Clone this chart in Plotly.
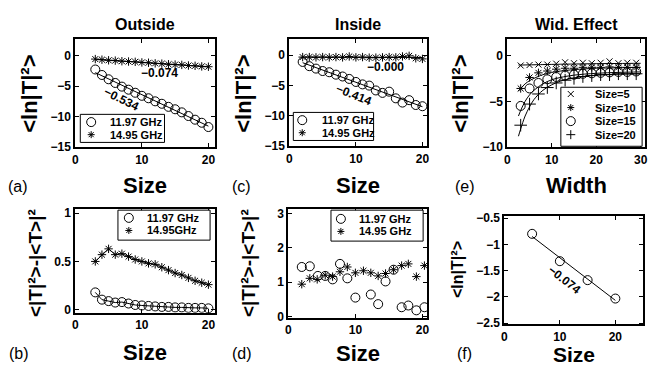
import numpy as np
import plotly.graph_objects as go

W, H = 657, 371
FONT = "Liberation Sans"

# ---------------- data ----------------
# (a) Outside
size_a = list(range(3, 21))
out_1197 = [-2.3, -3.2, -3.9, -4.5, -5.1, -5.6, -6.1, -6.6, -7.0, -7.5, -7.9, -8.4,
            -8.8, -9.3, -9.9, -10.5, -11.0, -11.7]
out_1495 = [-0.6, -0.7, -0.8, -0.85, -0.95, -1.0, -1.05, -1.15, -1.2, -1.3, -1.35,
            -1.45, -1.5, -1.55, -1.65, -1.7, -1.8, -1.85]

# (c) Inside
size_c = list(range(2, 21))
in_1197 = [-1.1, -1.8, -2.2, -2.6, -2.8, -3.2, -3.5, -3.9, -4.4, -4.8, -5.0, -5.8,
           -6.2, -6.0, -7.1, -7.8, -7.4, -8.2, -8.4]
in_1495 = [-0.3, -0.3, -0.35, -0.3, -0.35, -0.3, -0.35, -0.2, -0.35, -0.3, -0.4,
           -0.4, -0.35, -0.3, -0.35, -0.2, -0.1, -0.5, -0.6]

# (e) Width effect
width_e = list(range(3, 31, 2))
wid_s5 = [-1.1, -1.05, -1.0, -1.0, -0.9, -0.75, -0.85, -0.8, -0.85, -0.8, -0.65, -0.85, -0.8, -0.8]
wid_s10 = [-3.6, -2.4, -1.9, -1.7, -1.5, -1.4, -1.4, -1.3, -1.3, -1.3, -1.25, -1.3, -1.3, -1.3]
wid_s15 = [-5.5, -3.6, -3.0, -2.6, -2.35, -2.2, -2.1, -2.0, -1.95, -1.9, -1.85, -1.8, -1.8, -1.75]
wid_s20 = [-7.6, -5.3, -4.2, -3.5, -3.0, -2.7, -2.5, -2.3, -2.2, -2.1, -2.1, -2.0, -2.0, -2.0]
# fitted curves
fit_w = [2.5, 3, 4, 5, 6, 8, 10, 12, 15, 20, 25, 30]
fit_s5 = [-1.05, -1.05, -1.04, -1.03, -1.02, -1.0, -0.98, -0.96, -0.94, -0.9, -0.88, -0.86]
fit_s10 = [-3.9, -3.6, -3.1, -2.75, -2.5, -2.1, -1.85, -1.7, -1.55, -1.4, -1.35, -1.3]
fit_s15 = [-6.6, -6.0, -5.0, -4.3, -3.8, -3.1, -2.65, -2.4, -2.15, -1.95, -1.85, -1.8]
fit_s20 = [-8.8, -8.0, -6.6, -5.6, -4.8, -3.8, -3.2, -2.8, -2.45, -2.15, -2.05, -2.0]

# (b) variance, outside
size_b = list(range(3, 21))
var_1197 = [0.18, 0.105, 0.09, 0.075, 0.08, 0.065, 0.05, 0.045, 0.04, 0.035, 0.03, 0.03,
            0.025, 0.025, 0.02, 0.02, 0.02, 0.015]
var_1495 = [0.50, 0.57, 0.63, 0.57, 0.58, 0.55, 0.52, 0.50, 0.48, 0.47, 0.44, 0.41,
            0.38, 0.36, 0.33, 0.30, 0.28, 0.26]

# (d) variance, inside
size_d_1197 = [2.0, 3.2, 4.4, 5.5, 6.6, 7.7, 8.8, 10.0, 12.3, 13.4, 14.5, 15.7, 16.9, 17.9, 19.1, 20.3]
var_in_1197 = [1.44, 1.46, 1.18, 1.18, 1.08, 1.53, 1.11, 0.55, 0.64, 0.36, 1.02, 1.36, 0.27, 0.32, 0.18, 0.27]
size_d_1495 = [2.0, 3.2, 4.3, 5.5, 6.6, 7.7, 8.8, 10.0, 11.2, 12.3, 13.4, 14.5, 15.7, 16.9, 17.9, 19.1, 20.3]
var_in_1495 = [0.94, 1.11, 1.08, 1.20, 1.16, 1.30, 1.44, 1.27, 1.33, 1.27, 1.18, 1.25, 1.36, 1.48, 1.53, 1.16, 1.48]

# (f) width-averaged
size_f = [5, 10, 15, 20]
ln_f = [-0.80, -1.32, -1.68, -2.03]

# ---------------- layout helpers ----------------
def dx(px):
    return px / W

def dy(py):
    return 1 - py / H

# panel boxes in pixels: (left, right, top, bottom)
boxes = {
    1: (73, 214, 35, 147),   # a
    2: (289, 428, 35, 146),  # c
    3: (509, 648, 35, 147),  # e
    4: (73, 214, 211, 318),  # b
    5: (288, 428, 211, 323), # d
    6: (506, 646, 218, 330), # f
}
ranges = {
    1: ([0, 21], [-15, 2.7], [0, 10, 20], [-15, -10, -5, 0]),
    2: ([0, 20.7], [-15, 2.7], [0, 10, 20], [-15, -10, -5, 0]),
    3: ([0, 31], [-10, 1.8], [0, 10, 20, 30], [-10, -5, 0]),
    4: ([0, 21], [-0.03, 1.04], [0, 10, 20], [0, 0.5, 1]),
    5: ([0, 20.7], [-0.03, 3.12], [0, 10, 20], [0, 1, 2, 3]),
    6: ([0, 25], [-2.52, -0.46], [0, 10, 20], [-2.5, -2, -1.5, -1, -0.5]),
}

fig = go.Figure()

tickfont = dict(family=FONT, size=12, color="black", weight="bold")
layout_axes = {}
for i, (l, r, t, b) in boxes.items():
    xr, yr, xt, yt = ranges[i]
    sx = "" if i == 1 else str(i)
    common = dict(showline=True, linecolor="black", linewidth=2, mirror="ticks",
                  ticks="inside", ticklen=4, tickwidth=1, tickcolor="black",
                  showgrid=False, zeroline=False, tickfont=tickfont)
    layout_axes["xaxis" + sx] = dict(domain=[dx(l), dx(r)], range=xr, tickvals=xt,
                                     anchor="y" + sx, **common)
    layout_axes["yaxis" + sx] = dict(domain=[dy(b), dy(t)], range=yr, tickvals=yt,
                                     anchor="x" + sx, **common)

def ax(i):
    s = "" if i == 1 else str(i)
    return dict(xaxis="x" + s, yaxis="y" + s)

circ = dict(symbol="circle-open", size=9, color="black", line=dict(width=1, color="black"))
star = dict(symbol="asterisk-open", size=7, color="black", line=dict(width=1, color="black"))
blk = dict(color="black", width=1)

def fit_line(x, y, i):
    p = np.polyfit(x, y, 1)
    xs = np.array([min(x), max(x)])
    fig.add_trace(go.Scatter(x=xs, y=np.polyval(p, xs), mode="lines", line=blk,
                             hoverinfo="skip", **ax(i)))

# (a)
fit_line(size_a, out_1197, 1)
fit_line(size_a, out_1495, 1)
fig.add_trace(go.Scatter(x=size_a, y=out_1197, mode="markers", marker=circ, name="11.97 GHz", **ax(1)))
fig.add_trace(go.Scatter(x=size_a, y=out_1495, mode="markers", marker=star, name="14.95 GHz", **ax(1)))
# (c)
fit_line(size_c, in_1197, 2)
fit_line(size_c, in_1495, 2)
fig.add_trace(go.Scatter(x=size_c, y=in_1197, mode="markers", marker=circ, name="11.97 GHz", **ax(2)))
fig.add_trace(go.Scatter(x=size_c, y=in_1495, mode="markers", marker=star, name="14.95 GHz", **ax(2)))
# (e)
for fy in (fit_s5, fit_s10, fit_s15, fit_s20):
    fig.add_trace(go.Scatter(x=fit_w, y=fy, mode="lines", line=dict(color="black", width=1, shape="spline"),
                             hoverinfo="skip", **ax(3)))
fig.add_trace(go.Scatter(x=width_e, y=wid_s5, mode="markers", name="Size=5",
                         marker=dict(symbol="x-thin-open", size=6, color="black", line=dict(width=1, color="black")), **ax(3)))
fig.add_trace(go.Scatter(x=width_e, y=wid_s10, mode="markers", name="Size=10", marker=star, **ax(3)))
fig.add_trace(go.Scatter(x=width_e, y=wid_s15, mode="markers", name="Size=15", marker=circ, **ax(3)))
fig.add_trace(go.Scatter(x=width_e, y=wid_s20, mode="markers", name="Size=20",
                         marker=dict(symbol="cross-thin-open", size=9, color="black", line=dict(width=1, color="black")), **ax(3)))
# (b)
fig.add_trace(go.Scatter(x=size_b, y=var_1197, mode="lines+markers", line=blk, marker=circ, name="11.97 GHz", **ax(4)))
fig.add_trace(go.Scatter(x=size_b, y=var_1495, mode="lines+markers", line=blk, marker=star, name="14.95GHz", **ax(4)))
# (d)
fig.add_trace(go.Scatter(x=size_d_1197, y=var_in_1197, mode="markers", marker=circ, name="11.97 GHz", **ax(5)))
fig.add_trace(go.Scatter(x=size_d_1495, y=var_in_1495, mode="markers", marker=star, name="14.95 GHz", **ax(5)))
# (f)
fit_line(size_f, ln_f, 6)
fig.add_trace(go.Scatter(x=size_f, y=ln_f, mode="markers", marker=circ, name="width avg", **ax(6)))

# ---------------- annotations ----------------
ann = []
shapes = []

def txt(x, y, s, size=12, bold=True, angle=0, xanchor="center", family=FONT, xref="paper", yref="paper"):
    ann.append(dict(x=x, y=y, xref=xref, yref=yref, text=s, showarrow=False, textangle=angle,
                    xanchor=xanchor, yanchor="middle",
                    font=dict(family=family, size=size, color="black", weight="bold" if bold else "normal")))

# titles
txt(dx(143.5), dy(20), "Outside", 16)
txt(dx(358.5), dy(20), "Inside", 16)
txt(dx(578.5), dy(20), "Wid. Effect", 16)

# x labels
txt(dx(143.5), dy(187), "Size", 22)
txt(dx(358.5), dy(187), "Size", 22)
txt(dx(578.5), dy(187), "Width", 22)
txt(dx(143.5), dy(359), "Size", 22)
txt(dx(358), dy(360), "Size", 22)
txt(dx(576), dy(361), "Size", 21)

# y labels
lnT = "&lt;ln|T|\u00B2&gt;"
varT = "&lt;|T|\u00B2&gt;-|&lt;T&gt;|\u00B2"
txt(dx(26), dy(92), lnT, 22, angle=-90)
txt(dx(242), dy(92), lnT, 22, angle=-90)
txt(dx(461), dy(92), lnT, 22, angle=-90)
txt(dx(33), dy(267), varT, 19, angle=-90)
txt(dx(248), dy(267), varT, 19, angle=-90)
txt(dx(458), dy(273), lnT, 16, angle=-90)

# panel letters
for (px, py, s) in [(15, 188, "(a)"), (241, 188, "(c)"), (466, 188, "(e)"),
                    (16, 360, "(b)"), (241, 360, "(d)"), (466, 360, "(f)")]:
    txt(dx(px), dy(py), s, 16, bold=False)

# slope labels (data coordinates)
txt(12.7, -2.85, "\u22120.074", 12, xref="x", yref="y")
txt(6.9, -7.1, "\u22120.534", 12, angle=26, xref="x", yref="y")
txt(14.5, -1.9, "\u22120.000", 12, xref="x2", yref="y2")
txt(9.7, -6.6, "\u22120.414", 12, angle=22, xref="x2", yref="y2")
txt(10.9, -1.67, "\u22120.074", 12, angle=38, xref="x6", yref="y6")

# ---- manual legend keys drawn as pixel-sized shapes ----
def seg(cx, cy, x0, y0, x1, y1):
    shapes.append(dict(type="line", xref="paper", yref="paper", xsizemode="pixel", ysizemode="pixel",
                       xanchor=dx(cx), yanchor=dy(cy), x0=x0, y0=y0, x1=x1, y1=y1,
                       line=dict(color="black", width=1), layer="above"))

def key(kind, cx, cy):
    if kind == "o":
        shapes.append(dict(type="circle", xref="paper", yref="paper", xsizemode="pixel", ysizemode="pixel",
                           xanchor=dx(cx), yanchor=dy(cy), x0=-4.5, x1=4.5, y0=-4.5, y1=4.5,
                           line=dict(color="black", width=1), layer="above"))
    elif kind == "*":
        seg(cx, cy, -3.5, 0, 3.5, 0)
        seg(cx, cy, 0, -3.5, 0, 3.5)
        seg(cx, cy, -2.5, -2.5, 2.5, 2.5)
        seg(cx, cy, -2.5, 2.5, 2.5, -2.5)
    elif kind == "x":
        seg(cx, cy, -3, -3, 3, 3)
        seg(cx, cy, -3, 3, 3, -3)
    elif kind == "+":
        seg(cx, cy, -4.5, 0, 4.5, 0)
        seg(cx, cy, 0, -4.5, 0, 4.5)

def legend(box, sym_x, text_x, rows):
    l, t, r, b = box
    shapes.append(dict(type="rect", xref="paper", yref="paper", x0=dx(l), x1=dx(r), y0=dy(b), y1=dy(t),
                       line=dict(color="black", width=1), fillcolor="white", layer="above"))
    for (ry, kind, label) in rows:
        key(kind, sym_x, ry)
        txt(dx(text_x), dy(ry), label, 11, xanchor="left")

legend((78, 113, 163, 142), 89, 106, [(121, "o", "11.97 GHz"), (134, "*", "14.95 GHz")])
legend((293, 111, 374, 140), 302, 320, [(119, "o", "11.97 GHz"), (132, "*", "14.95 GHz")])
legend((563, 85, 645, 146), 573, 595, [(92, "x", "Size=5"), (106, "*", "Size=10"),
                                      (120, "o", "Size=15"), (134, "+", "Size=20")])
legend((116, 212, 209, 243), 127, 143, [(220, "o", "11.97 GHz"), (233, "*", "14.95GHz")])
legend((331, 212, 424, 244), 341, 357, [(221, "o", "11.97 GHz"), (234, "*", "14.95 GHz")])

fig.update_layout(width=W, height=H, margin=dict(l=0, r=0, t=0, b=0),
                  paper_bgcolor="white", plot_bgcolor="white", showlegend=False,
                  annotations=ann, shapes=shapes, **layout_axes)

fig.write_html("out.html")
